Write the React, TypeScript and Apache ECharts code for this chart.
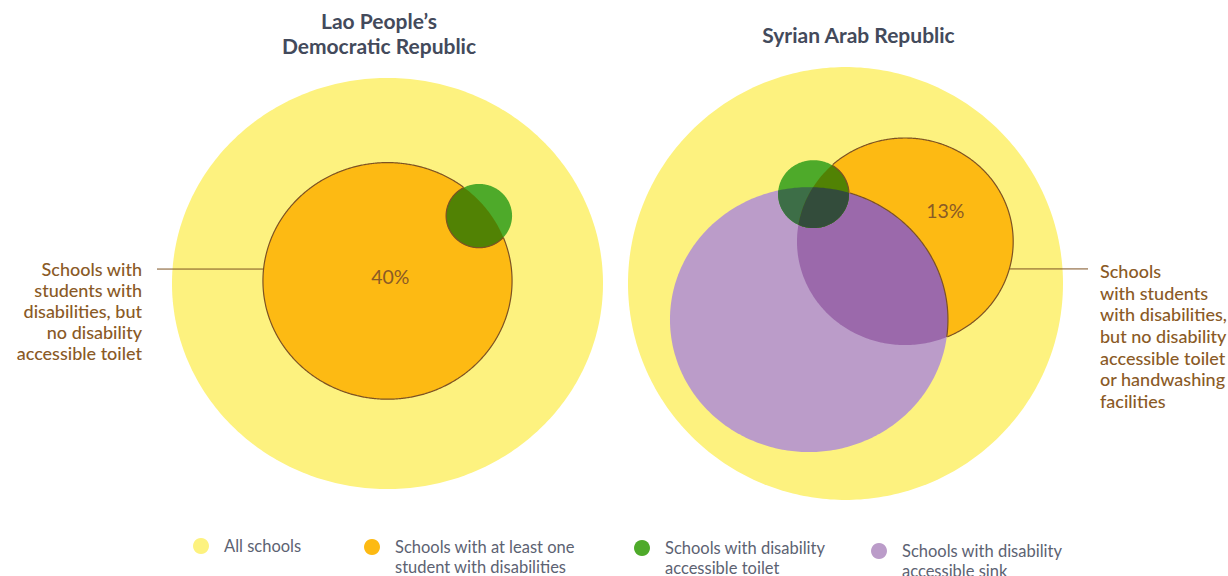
import React, { useEffect, useRef } from 'react';
import * as echarts from 'echarts';

// ---------- data ----------
const countries = ['Lao People’s\nDemocratic Republic', 'Syrian Arab Republic'];
const categories = [
  'All schools',
  'Schools with at least one student with disabilities',
  'Schools with disability accessible toilet',
  'Schools with disability accessible sink',
];
const legendLines = [
  'All schools',
  'Schools with at least one\nstudent with disabilities',
  'Schools with disability\naccessible toilet',
  'Schools with disability\naccessible sink',
];
// Venn geometry in units of the "All schools" radius (order follows categories)
const laoCenterX = [0, 0, 0.425];
const laoCenterY = [0, 0.012, 0.314];
const laoRadiusX = [1, 0.578, 0.153];
const laoRadiusY = [0.954, 0.549, 0.148];
const syrCenterX = [0, 0.274, -0.147, -0.168];
const syrCenterY = [0, 0.193, 0.411, -0.166];
const syrRadiusX = [1, 0.497, 0.163, 0.639];
const syrRadiusY = [0.995, 0.476, 0.156, 0.609];
const shareLabels = ['40%', '13%'];
const calloutTexts = [
  'Schools with\nstudents with\ndisabilities, but\nno disability\naccessible toilet',
  'Schools\nwith students\nwith disabilities,\nbut no disability\naccessible toilet\nor handwashing\nfacilities',
];

// ---------- styles / layout ----------
const FONT = 'Lato, "Noto Sans", sans-serif';
const COLORS = ['#fdf27f', '#fdba13', '#4eaa2a', '#bb9cc9'];
const OVERLAP = {
  orangePurple: '#9b69ab',
  greenOrange: '#518204',
  greenPurple: '#3d6e47',
  all: '#334c3b',
};
const OUTLINE = '#7d5223';
const BROWN_TEXT = '#8a5a26';
const TITLE_COLOR = '#434a5b';
const LEGEND_TEXT = '#5c6272';
const PANELS = [
  { cx: 387.5, cy: 283.5, unit: 215.5 },
  { cx: 845.5, cy: 283.5, unit: 217.5 },
];
const SPAN = 1.2;
const CALLOUT = { y: 0.067, side: [-1, 1], endX: [157, 1088] };
const LABEL_NUDGE = [
  [7, -7],
  [4, -5],
];
const LEGEND_POS = [
  { x: 201, y: 546 },
  { x: 372, y: 547 },
  { x: 642, y: 548 },
  { x: 879, y: 551 },
];

type Shape = { cx: number; cy: number; rx: number; ry: number };

const panelShapes: Shape[][] = [
  laoCenterX.map((_, i) => ({ cx: laoCenterX[i], cy: laoCenterY[i], rx: laoRadiusX[i], ry: laoRadiusY[i] })),
  syrCenterX.map((_, i) => ({ cx: syrCenterX[i], cy: syrCenterY[i], rx: syrRadiusX[i], ry: syrRadiusY[i] })),
];

function ellipsePoints(s: Shape, n = 360): number[][] {
  const pts: number[][] = [];
  for (let i = 0; i < n; i++) {
    const t = (i / n) * Math.PI * 2;
    pts.push([s.cx + s.rx * Math.cos(t), s.cy + s.ry * Math.sin(t)]);
  }
  return pts;
}
function inside(s: Shape | undefined, p: number[]) {
  if (!s) return false;
  const dx = (p[0] - s.cx) / s.rx;
  const dy = (p[1] - s.cy) / s.ry;
  return dx * dx + dy * dy <= 1;
}
function clipConvex(subject: number[][], clip: number[][]): number[][] {
  let output = subject;
  for (let i = 0; i < clip.length; i++) {
    const a = clip[i];
    const b = clip[(i + 1) % clip.length];
    const input = output;
    output = [];
    if (!input.length) break;
    const side = (p: number[]) => (b[0] - a[0]) * (p[1] - a[1]) - (b[1] - a[1]) * (p[0] - a[0]);
    for (let j = 0; j < input.length; j++) {
      const cur = input[j];
      const prev = input[(j + input.length - 1) % input.length];
      const sc = side(cur);
      const sp = side(prev);
      const cross = () => {
        const t = sp / (sp - sc);
        return [prev[0] + t * (cur[0] - prev[0]), prev[1] + t * (cur[1] - prev[1])];
      };
      if (sc >= 0) {
        if (sp < 0) output.push(cross());
        output.push(cur);
      } else if (sp >= 0) {
        output.push(cross());
      }
    }
  }
  return output;
}
function runs(pts: number[][], keep: (p: number[]) => boolean): number[][][] {
  const n = pts.length;
  const flags = pts.map(keep);
  if (flags.every(Boolean)) return [[...pts, pts[0]]];
  const start = flags.indexOf(false);
  const out: number[][][] = [];
  let cur: number[][] | null = null;
  for (let k = 1; k <= n; k++) {
    const i = (start + k) % n;
    if (flags[i]) {
      if (!cur) cur = [];
      cur.push(pts[i]);
    } else if (cur) {
      out.push(cur);
      cur = null;
    }
  }
  if (cur) out.push(cur);
  return out.filter((r) => r.length > 1);
}

function renderLayer(p: number, k: number, last: boolean, api: any) {
  const shapes = panelShapes[p];
  const own: Shape = { cx: api.value(0), cy: api.value(1), rx: api.value(2), ry: api.value(3) };
  const px = (pts: number[][]) => pts.map((pt) => api.coord(pt));
  const children: any[] = [];
  const poly = (pts: number[][], fill: string) => {
    if (pts.length > 2) children.push({ type: 'polygon', shape: { points: px(pts) }, style: { fill, stroke: null } });
  };
  const pts = ellipsePoints(own);
  poly(pts, COLORS[k]);
  const orange = shapes[1];
  const purple = shapes[3];
  if (k === 3) {
    poly(clipConvex(pts, ellipsePoints(orange)), OVERLAP.orangePurple);
  }
  if (k === 2) {
    if (purple) poly(clipConvex(pts, ellipsePoints(purple)), OVERLAP.greenPurple);
    const go = clipConvex(pts, ellipsePoints(orange));
    poly(go, OVERLAP.greenOrange);
    if (purple) poly(clipConvex(go, ellipsePoints(purple)), OVERLAP.all);
  }
  if (last) {
    const others = shapes.slice(2);
    const segs: number[][][] = [];
    segs.push(...runs(ellipsePoints(orange, 720), (pt) => !others.some((x) => inside(x, pt))));
    others.forEach((X, j) =>
      segs.push(
        ...runs(ellipsePoints(X, 720), (pt) => inside(orange, pt) && !others.some((Y, m) => m !== j && inside(Y, pt)))
      )
    );
    segs.forEach((seg) =>
      children.push({
        type: 'polyline',
        shape: { points: px(seg) },
        style: { stroke: OUTLINE, lineWidth: 1.2, fill: null },
      })
    );
    // callout line
    const t = (CALLOUT.y - orange.cy) / orange.ry;
    const xEdge = orange.cx + CALLOUT.side[p] * orange.rx * Math.sqrt(Math.max(0, 1 - t * t));
    const a = api.coord([xEdge, CALLOUT.y]);
    children.push({
      type: 'line',
      shape: { x1: a[0], y1: a[1], x2: CALLOUT.endX[p], y2: a[1] },
      style: { stroke: OUTLINE, lineWidth: 1 },
    });
    // share label near the centroid of the outlined region
    let sx = 0, sy = 0, c = 0;
    const G = 120;
    for (let i = 0; i <= G; i++) {
      for (let j = 0; j <= G; j++) {
        const q = [orange.cx - orange.rx + (2 * orange.rx * i) / G, orange.cy - orange.ry + (2 * orange.ry * j) / G];
        if (inside(orange, q) && !others.some((x) => inside(x, q))) {
          sx += q[0];
          sy += q[1];
          c++;
        }
      }
    }
    const lp = api.coord([sx / c, sy / c]);
    children.push({
      type: 'text',
      x: lp[0] + LABEL_NUDGE[p][0],
      y: lp[1] + LABEL_NUDGE[p][1],
      style: {
        text: shareLabels[p],
        fill: BROWN_TEXT,
        font: `400 19.5px ${FONT}`,
        align: 'center',
        verticalAlign: 'middle',
        textAlign: 'center',
        textVerticalAlign: 'middle',
      },
    });
  }
  return { type: 'group', children };
}

function buildOption() {
  const grids = PANELS.map((pn) => ({
    left: pn.cx - SPAN * pn.unit,
    top: pn.cy - SPAN * pn.unit,
    width: 2 * SPAN * pn.unit,
    height: 2 * SPAN * pn.unit,
  }));
  const axis = (i: number) => ({
    type: 'value',
    gridIndex: i,
    min: -SPAN,
    max: SPAN,
    show: false,
    splitLine: { show: false },
  });
  const series: any[] = [];
  panelShapes.forEach((shapes, p) => {
    const order = shapes.length > 3 ? [0, 1, 3, 2] : [0, 1, 2];
    order.forEach((k, idx) => {
      const last = idx === order.length - 1;
      const s = shapes[k];
      series.push({
        type: 'custom',
        name: categories[k],
        coordinateSystem: 'cartesian2d',
        xAxisIndex: p,
        yAxisIndex: p,
        silent: true,
        clip: false,
        itemStyle: { color: COLORS[k] },
        data: [[s.cx, s.cy, s.rx, s.ry]],
        renderItem: (_params: any, api: any) => renderLayer(p, k, last, api),
      });
    });
  });

  const legend = categories.map((name, i) => {
    const twoLines = legendLines[i].includes('\n');
    return {
      data: [name],
      left: LEGEND_POS[i].x - 8,
      top: LEGEND_POS[i].y - (twoLines ? 30 : 10),
      orient: 'horizontal',
      padding: 0,
      icon: 'circle',
      itemWidth: 36,
      itemHeight: 16,
      selectedMode: false,
      // a leading blank line keeps the first text line level with the dot
      formatter: () => (twoLines ? '\n' + legendLines[i] : legendLines[i]),
      textStyle: {
        fontFamily: FONT,
        fontSize: 16.5,
        color: LEGEND_TEXT,
        lineHeight: 20,
      },
    };
  });

  const title = [
    { text: countries[0], left: 379, top: 7.5 },
    { text: countries[1], left: 858.5, top: 21.5 },
  ].map((t) => ({
    ...t,
    textAlign: 'center',
    padding: 0,
    textStyle: { fontFamily: FONT, fontWeight: 'bold', fontSize: 21, color: TITLE_COLOR, lineHeight: 25 },
  }));

  const graphic = [
    {
      type: 'text',
      x: 142,
      y: 258.5,
      style: {
        text: calloutTexts[0],
        fill: BROWN_TEXT,
        font: `500 18px ${FONT}`,
        lineHeight: 21,
        align: 'right',
        verticalAlign: 'top',
        textAlign: 'right',
        textVerticalAlign: 'top',
      },
    },
    {
      type: 'text',
      x: 1100,
      y: 260,
      style: {
        text: calloutTexts[1],
        fill: BROWN_TEXT,
        font: `500 18px ${FONT}`,
        lineHeight: 21.7,
        align: 'left',
        verticalAlign: 'top',
        textAlign: 'left',
        textVerticalAlign: 'top',
      },
    },
  ];

  return {
    animation: false,
    backgroundColor: '#ffffff',
    title,
    legend,
    grid: grids,
    xAxis: [axis(0), axis(1)],
    yAxis: [axis(0), axis(1)],
    graphic,
    series,
  };
}

export default function App() {
  const ref = useRef<HTMLDivElement>(null);
  useEffect(() => {
    if (!ref.current) return;
    const chart = echarts.init(ref.current, undefined, { renderer: 'svg' });
    chart.setOption(buildOption() as any);
    return () => chart.dispose();
  }, []);
  return (
    <div
      ref={ref}
      style={{ position: 'fixed', left: 0, top: 0, width: 1228, height: 576, background: '#fff' }}
    />
  );
}
